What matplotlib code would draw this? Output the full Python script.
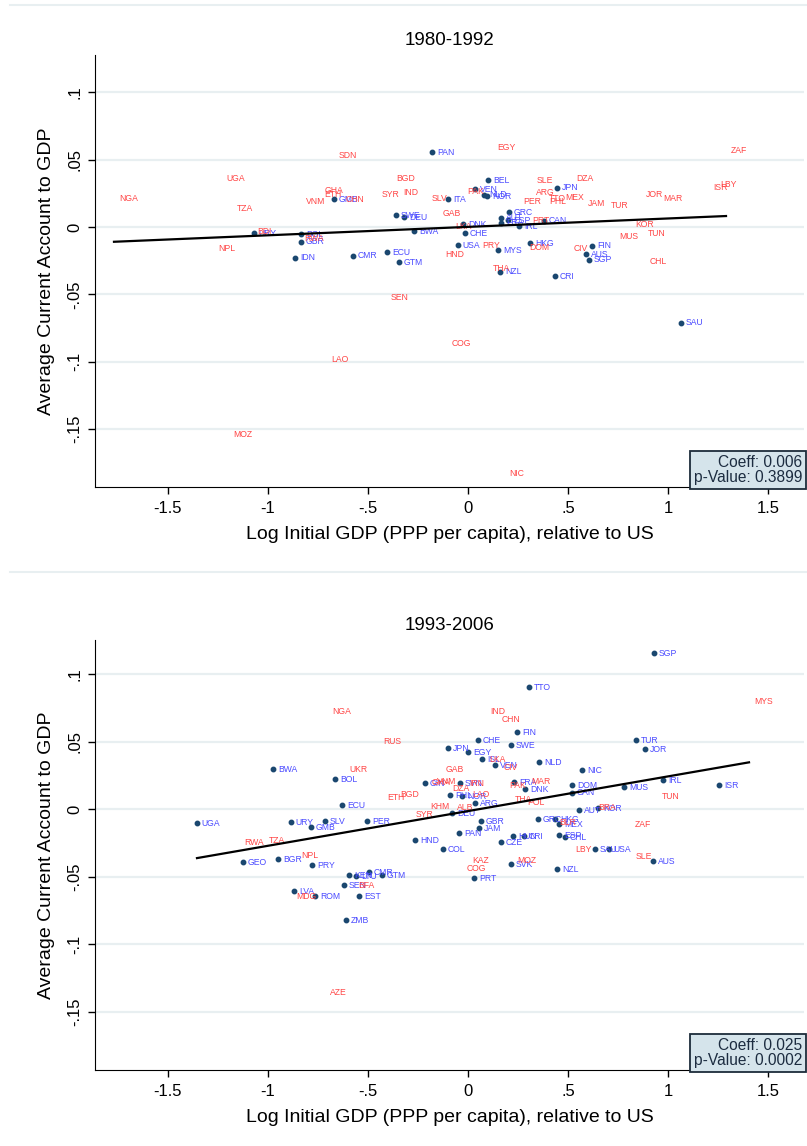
import numpy as np
import matplotlib.pyplot as plt
from matplotlib.lines import Line2D

plt.rcParams['font.family'] = ['Liberation Sans', 'DejaVu Sans']

# ---- 1980-1992 : countries drawn with a marker (blue labels)
top_dot_code = ['PAN', 'BEL', 'VEN', 'NLD', 'NOR', 'JPN', 'GMB', 'ITA', 'SWE', 'DEU',
                'GRC', 'AUT', 'ESP', 'FRA', 'CAN', 'IRL', 'DNK', 'CHE', 'BWA', 'URY',
                'BOL', 'GBR', 'IDN', 'CMR', 'ECU', 'GTM', 'USA', 'MYS', 'HKG', 'FIN',
                'AUS', 'SGP', 'NZL', 'CRI', 'SAU']
top_dot_x = [-0.18, 0.10, 0.035, 0.08, 0.095, 0.445, -0.67, -0.10, -0.36, -0.32,
             0.205, 0.165, 0.20, 0.165, 0.38, 0.255, -0.025, -0.015, -0.27, -1.07,
             -0.835, -0.835, -0.865, -0.575, -0.405, -0.345, -0.05, 0.15, 0.31, 0.62,
             0.59, 0.605, 0.16, 0.435, 1.065]
top_dot_y = [0.0557, 0.0349, 0.0282, 0.0238, 0.0230, 0.0290, 0.0208, 0.0208, 0.0089, 0.0074,
             0.0111, 0.0067, 0.0052, 0.0030, 0.0045, 0.0007, 0.0022, -0.0045, -0.0030, -0.0045,
             -0.0052, -0.0111, -0.0230, -0.0215, -0.0186, -0.0260, -0.0134, -0.0171, -0.0119, -0.0141,
             -0.0201, -0.0245, -0.0334, -0.0364, -0.0713]

# ---- 1980-1992 : countries shown by label only (red labels)
top_lab_code = ['NGA', 'UGA', 'TZA', 'NPL', 'VNM', 'GHA', 'ETH', 'CHN', 'SDN', 'BGD',
                'SYR', 'IND', 'SLV', 'GAB', 'LKA', 'HND', 'BDI', 'RWA', 'SEN', 'LAO',
                'MOZ', 'COG', 'NIC', 'EGY', 'PAK', 'PRY', 'SLE', 'DZA', 'ARG', 'PER',
                'TTO', 'PHL', 'MEX', 'JAM', 'TUR', 'PRT', 'DOM', 'THA', 'CIV', 'MUS',
                'KOR', 'TUN', 'CHL', 'JOR', 'MAR', 'ISR', 'LBY', 'ZAF']
top_lab_x = [-1.77, -1.23, -1.18, -1.275, -0.835, -0.74, -0.745, -0.635, -0.67, -0.385,
             -0.455, -0.35, -0.205, -0.15, -0.09, -0.14, -1.08, -0.845, -0.41, -0.71,
             -1.20, -0.105, 0.18, 0.12, -0.03, 0.045, 0.32, 0.515, 0.315, 0.25,
             0.38, 0.38, 0.46, 0.575, 0.69, 0.295, 0.28, 0.10, 0.505, 0.73,
             0.81, 0.875, 0.885, 0.865, 0.95, 1.20, 1.235, 1.29]
top_lab_y = [0.0215, 0.0364, 0.0141, -0.0163, 0.0186, 0.0275, 0.0245, 0.0201, 0.0535, 0.0357,
             0.0238, 0.0253, 0.0215, 0.0104, 0.0007, -0.0201, -0.0037, -0.0089, -0.0520, -0.0988,
             -0.1545, -0.0862, -0.1835, 0.0594, 0.0267, -0.0141, 0.0342, 0.0364, 0.0253, 0.0193,
             0.0215, 0.0193, 0.0223, 0.0178, 0.0163, 0.0052, -0.0149, -0.0305, -0.0163, -0.0074,
             0.0022, -0.0045, -0.0253, 0.0245, 0.0215, 0.0290, 0.0319, 0.0565]

# ---- 1993-2006 : countries drawn with a marker (blue labels)
bot_dot_code = ['SGP', 'TTO', 'FIN', 'CHE', 'SWE', 'JPN', 'EGY', 'ISL', 'VEN', 'NLD',
                'NIC', 'TUR', 'JOR', 'IRL', 'ISR', 'MUS', 'BWA', 'BOL', 'ECU', 'UGA',
                'URY', 'SLV', 'PER', 'GMB', 'HND', 'GEO', 'BGR', 'PRY', 'KEN', 'LTU',
                'CMR', 'GTM', 'SEN', 'LVA', 'ROM', 'EST', 'ZMB', 'GIN', 'SVN', 'FRA',
                'DNK', 'DOM', 'CAN', 'PHL', 'NOR', 'ARG', 'DEU', 'AUT', 'KOR', 'GBR',
                'JAM', 'GRC', 'HKG', 'MEX', 'PAN', 'HUN', 'CRI', 'ESP', 'CHL', 'CZE',
                'COL', 'SAU', 'USA', 'SVK', 'NZL', 'PRT', 'AUS']
bot_dot_x = [0.93, 0.305, 0.245, 0.05, 0.215, -0.10, 0.0, 0.07, 0.135, 0.355,
             0.57, 0.84, 0.885, 0.975, 1.255, 0.78, -0.975, -0.665, -0.63, -1.355,
             -0.885, -0.715, -0.505, -0.785, -0.265, -1.125, -0.95, -0.78, -0.595, -0.56,
             -0.495, -0.43, -0.62, -0.87, -0.765, -0.545, -0.61, -0.215, -0.04, 0.23,
             0.285, 0.52, 0.52, -0.09, -0.03, 0.035, -0.08, 0.555, 0.65, 0.065,
             0.055, 0.35, 0.435, 0.455, -0.045, 0.225, 0.28, 0.455, 0.485, 0.165,
             -0.125, 0.635, 0.705, 0.215, 0.445, 0.03, 0.925]
bot_dot_y = [0.1156, 0.0904, 0.0570, 0.0511, 0.0474, 0.0452, 0.0422, 0.0370, 0.0326, 0.0348,
             0.0289, 0.0511, 0.0444, 0.0215, 0.0178, 0.0163, 0.0296, 0.0222, 0.0030, -0.0104,
             -0.0096, -0.0089, -0.0089, -0.0133, -0.0230, -0.0393, -0.0370, -0.0415, -0.0489, -0.0496,
             -0.0467, -0.0489, -0.0563, -0.0607, -0.0644, -0.0644, -0.0822, 0.0193, 0.0193, 0.0200,
             0.0148, 0.0178, 0.0119, 0.0104, 0.0096, 0.0044, -0.0030, -0.0007, 0.0007, -0.0089,
             -0.0141, -0.0074, -0.0074, -0.0111, -0.0178, -0.0200, -0.0200, -0.0193, -0.0207, -0.0244,
             -0.0296, -0.0296, -0.0296, -0.0407, -0.0444, -0.0511, -0.0385]

# ---- 1993-2006 : countries shown by label only (red labels)
bot_lab_code = ['NGA', 'RUS', 'IND', 'CHN', 'LKA', 'CIV', 'GAB', 'UKR', 'ETH', 'BGD',
                'SYR', 'RWA', 'TZA', 'NPL', 'BFA', 'MDG', 'AZE', 'MYS', 'TUN', 'VNM',
                'GHA', 'DZA', 'IRN', 'PAK', 'MAR', 'LAO', 'KHM', 'ALB', 'THA', 'POL',
                'BRA', 'ZAF', 'BLR', 'LBY', 'SLE', 'KAZ', 'MOZ', 'COG']
bot_lab_x = [-0.705, -0.45, 0.085, 0.145, 0.08, 0.155, -0.135, -0.615, -0.43, -0.365,
             -0.285, -1.145, -1.02, -0.86, -0.575, -0.885, -0.715, 1.405, 0.945, -0.18,
             -0.205, -0.105, -0.02, 0.18, 0.29, -0.005, -0.215, -0.08, 0.21, 0.27,
             0.625, 0.81, 0.43, 0.51, 0.815, -0.005, 0.22, -0.03]
bot_lab_y = [0.0719, 0.0504, 0.0719, 0.0667, 0.0370, 0.0311, 0.0296, 0.0296, 0.0089, 0.0111,
             -0.0037, -0.0244, -0.0230, -0.0341, -0.0563, -0.0644, -0.1356, 0.0800, 0.0096, 0.0207,
             0.0200, 0.0156, 0.0193, 0.0178, 0.0207, 0.0111, 0.0022, 0.0015, 0.0074, 0.0052,
             0.0015, -0.0111, -0.0096, -0.0296, -0.0348, -0.0378, -0.0378, -0.0437]

# fitted lines (slope, intercept) and the printed statistics
top_fit = (0.00625, 0.0001)
bot_fit = (0.0257, -0.0015)
top_stats = ['Coeff: 0.006', 'p-Value: 0.3899']
bot_stats = ['Coeff: 0.025', 'p-Value: 0.0002']

titles = ['1980-1992', '1993-2006']
y_ticks = [0.1, 0.05, 0, -0.05, -0.1, -0.15]
y_tick_labels = ['.1', '.05', '0', '-.05', '-.1', '-.15']
x_ticks = [-1.5, -1, -0.5, 0, 0.5, 1, 1.5]
x_tick_labels = ['-1.5', '-1', '-.5', '0', '.5', '1', '1.5']

NAVY = '#1a476f'
BLUE = '#4a4aff'
RED = '#ff4545'
GRID = '#e8eff1'

fig = plt.figure(figsize=(8.07, 11.46), dpi=100)
ax_top = fig.add_axes([0.1177, 0.575, 0.8786, 0.377])
ax_bot = fig.add_axes([0.1177, 0.0663, 0.8786, 0.3752])

# faint outer region borders like the Stata graph regions
for yy in [1 - 5 / 1146, 1 - 572 / 1146]:
    fig.add_artist(Line2D([10 / 807, 1.0], [yy, yy], color=GRID, lw=1.5))

panels = [
    (ax_top, top_dot_code, top_dot_x, top_dot_y, top_lab_code, top_lab_x, top_lab_y,
     top_fit, top_stats, (-0.1932, 0.1278)),
    (ax_bot, bot_dot_code, bot_dot_x, bot_dot_y, bot_lab_code, bot_lab_x, bot_lab_y,
     bot_fit, bot_stats, (-0.1933, 0.1252)),
]

for i, (ax, dc, dx, dy, lc, lx, ly, fit, stats, ylim) in enumerate(panels):
    for t in y_ticks:
        ax.axhline(t, color=GRID, lw=1.6, zorder=0)

    ax.plot(dx, dy, 'o', color=NAVY, ms=3.2, zorder=3)
    for c, x, y in zip(dc, dx, dy):
        ax.annotate(c, (x, y), xytext=(3.5, 0), textcoords='offset points',
                    ha='left', va='center', fontsize=6.2, color=BLUE, zorder=4)
    for c, x, y in zip(lc, lx, ly):
        ax.annotate(c, (x, y), xytext=(3.5, 0), textcoords='offset points',
                    ha='left', va='center', fontsize=6.2, color=RED, zorder=4)

    allx = np.array(dx + lx)
    xs = np.array([allx.min(), allx.max()])
    ax.plot(xs, fit[0] * xs + fit[1], color='black', lw=1.6, zorder=5)

    ax.text(0.997, 0.004, '\n'.join(stats), transform=ax.transAxes, ha='right', va='bottom',
            fontsize=11.2, color='#1c2c40', linespacing=1.0, zorder=6,
            bbox=dict(boxstyle='square,pad=0.25', fc='#d5e4eb', ec='#1c2c3a', lw=1.3))

    ax.set_xlim(-1.865, 1.68)
    ax.set_ylim(*ylim)
    ax.set_xticks(x_ticks)
    ax.set_xticklabels(x_tick_labels)
    ax.set_yticks(y_ticks)
    ax.set_yticklabels(y_tick_labels, rotation=90, va='center')
    ax.tick_params(axis='both', labelsize=12, length=5, width=1, direction='out')
    ax.tick_params(axis='x', pad=5)
    ax.tick_params(axis='y', pad=4)
    for s in ['top', 'right']:
        ax.spines[s].set_visible(False)
    ax.set_title(titles[i], fontsize=13.5, pad=7)
    ax.set_xlabel('Log Initial GDP (PPP per capita), relative to US', fontsize=14, labelpad=7)
    ax.set_ylabel('Average Current Account to GDP', fontsize=14, labelpad=9)

fig.savefig('out.png', dpi=100)
